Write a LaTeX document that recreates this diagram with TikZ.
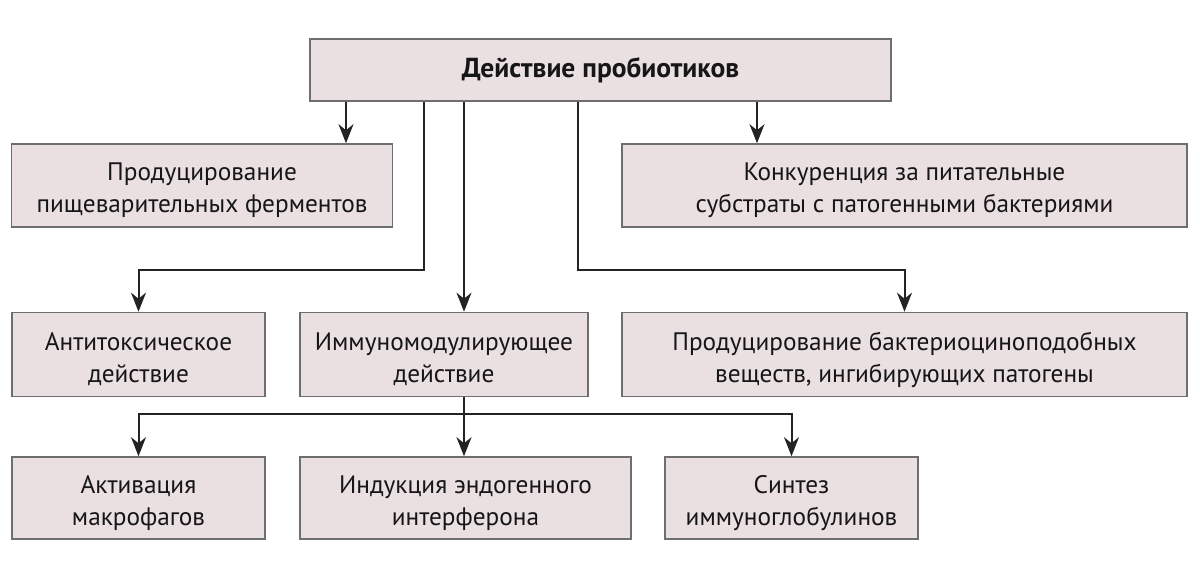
\documentclass[tikz,border=0pt]{standalone}
\usepackage{fontspec}
\setmainfont{PT Sans}
\usetikzlibrary{arrows.meta}
\definecolor{boxfill}{RGB}{234,224,226}
\definecolor{boxline}{RGB}{110,110,110}
\definecolor{conn}{RGB}{35,35,35}
\definecolor{txt}{RGB}{22,22,22}
\tikzset{
  box/.style={draw=boxline, line width=1.6pt, fill=boxfill, inner sep=0pt},
  lbl/.style={text=txt, align=center, inner sep=0pt, yshift=-5pt,
    font=\fontsize{25.3}{32}\selectfont},
  conline/.style={draw=conn, line width=2pt},
  arr/.style={conline, -{Stealth[length=19pt, width=15pt, inset=6pt]}}
}
\begin{document}
\begin{tikzpicture}[x=1pt,y=-1pt]
\useasboundingbox (0,0) rectangle (1200,580);
\node[box, minimum width=581pt, minimum height=62pt, text=txt, font=\fontsize{27.5}{32}\selectfont\bfseries] (top) at (600.5,70) {Действие пробиотиков};
\node[box, minimum width=381pt, minimum height=83pt, label={[lbl]center:{Продуцирование\\пищеварительных ферментов}}] (A) at (202,185.5) {};
\node[box, minimum width=565pt, minimum height=83pt, label={[lbl]center:{Конкуренция за питательные\\субстраты с патогенными бактериями}}] (B) at (904.5,185.5) {};
\node[box, minimum width=253pt, minimum height=84pt, label={[lbl]center:{Антитоксическое\\действие}}] (C) at (138.5,354.5) {};
\node[box, minimum width=288pt, minimum height=84pt, label={[lbl]center:{Иммуномодулирующее\\действие}}] (D) at (444,354.5) {};
\node[box, minimum width=565pt, minimum height=84pt, label={[lbl]center:{Продуцирование бактериоциноподобных\\веществ, ингибирующих патогены}}] (E) at (904.5,354.5) {};
\node[box, minimum width=253pt, minimum height=82pt, label={[lbl]center:{Активация\\макрофагов}}] (F) at (138.5,498) {};
\node[box, minimum width=331pt, minimum height=82pt, label={[lbl]center:{Индукция эндогенного\\интерферона}}] (G) at (465.5,498) {};
\node[box, minimum width=253pt, minimum height=82pt, label={[lbl]center:{Синтез\\иммуноглобулинов}}] (H) at (791.5,498) {};
\coordinate (xa) at (346,0);
\coordinate (xb) at (757,0);
\coordinate (xc) at (424,0);
\coordinate (xd) at (464,0);
\coordinate (xe) at (578,0);
\coordinate (y1) at (0,270);
\coordinate (j) at (464,414);
\draw[arr] (top.south -| xa) -- (A.north -| xa);
\draw[arr] (top.south -| xb) -- (B.north -| xb);
\draw[arr] (top.south -| xc) -- (xc |- y1) -| (C.north);
\draw[arr] (top.south -| xd) -- (D.north -| xd);
\draw[arr] (top.south -| xe) -- (xe |- y1) -| (E.north);
\draw[conline] (D.south -| j) -- (j);
\draw[arr] (j) -| (F.north);
\draw[arr] (j) -- (G.north -| j);
\draw[arr] (j) -| (H.north);
\end{tikzpicture}
\end{document}
